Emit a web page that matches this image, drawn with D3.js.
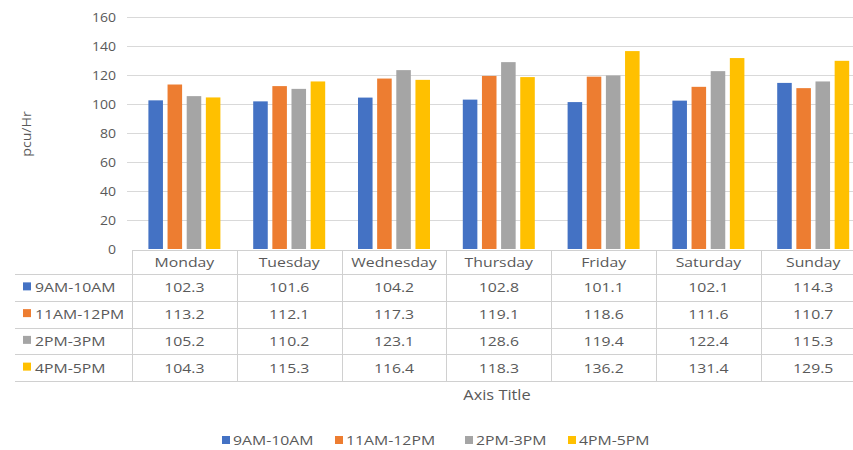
<!DOCTYPE html>
<html>
<head>
<meta charset="utf-8">
<script src="https://cdn.jsdelivr.net/npm/d3@7/dist/d3.min.js"></script>
<style>
  html, body { margin: 0; padding: 0; background: #fff; }
  svg { display: block; }
  text { font-family: "Open Sans", "Liberation Sans", sans-serif; fill: #595959; }
</style>
</head>
<body>
<svg id="chart" width="853" height="450"></svg>
<script>
// Traffic volume by day and time period
const days = ["Monday", "Tuesday", "Wednesday", "Thursday", "Friday", "Saturday", "Sunday"];
const periods = ["9AM-10AM", "11AM-12PM", "2PM-3PM", "4PM-5PM"];
const am9 = [102.3, 101.6, 104.2, 102.8, 101.1, 102.1, 114.3];
const am11 = [113.2, 112.1, 117.3, 119.1, 118.6, 111.6, 110.7];
const pm2 = [105.2, 110.2, 123.1, 128.6, 119.4, 122.4, 115.3];
const pm4 = [104.3, 115.3, 116.4, 118.3, 136.2, 131.4, 129.5];
const yTicks = [0, 20, 40, 60, 80, 100, 120, 140, 160];
const colors = ["#4472C4", "#ED7D31", "#A5A5A5", "#FFC000"];

const series = [am9, am11, pm2, pm4];
const rows = days.map((d, i) => {
  const r = { day: d };
  periods.forEach((p, j) => { r[p] = series[j][i]; });
  return r;
});

const svg = d3.select("#chart");
const W = 853;
const sx = 1.17; // horizontal text stretch

function label(g, x, y, str, anchor, size) {
  return g.append("text")
    .attr("transform", `translate(${x},${y}) scale(${sx},1)`)
    .attr("text-anchor", anchor || "middle")
    .style("font-size", (size || 13.5) + "px")
    .text(str);
}

const plotLeft = 132;
const colW = 104.8;
const x0 = d3.scaleBand().domain(days)
  .range([plotLeft, plotLeft + colW * days.length])
  .paddingInner(0.313).paddingOuter(0.1565);
const x1 = d3.scaleBand().domain(periods)
  .range([0, x0.bandwidth()]).paddingInner(0.24);
const y = d3.scaleLinear().domain([0, 160]).range([249, 16.5]);

// gridlines
svg.append("g").selectAll("line").data(yTicks.filter(t => t > 0)).join("line")
  .attr("x1", 127).attr("x2", W)
  .attr("y1", d => Math.round(y(d)) + 0.5).attr("y2", d => Math.round(y(d)) + 0.5)
  .attr("stroke", "#d9d9d9").attr("stroke-width", 1);

// y axis tick labels
const yAxis = svg.append("g").attr("transform", "translate(116,0)")
  .call(d3.axisLeft(y).tickValues(yTicks).tickSize(0).tickPadding(0));
yAxis.select(".domain").remove();
yAxis.selectAll(".tick text")
  .style("font-size", "13px")
  .attr("fill", "#595959")
  .attr("x", 0)
  .attr("dy", "0.35em")
  .attr("transform", "scale(1.08,1)");

// y axis title
svg.append("text")
  .attr("transform", "translate(31,134) rotate(-90) scale(1.05,1)")
  .attr("text-anchor", "middle")
  .style("font-size", "13.5px")
  .text("pcu/Hr");

// bars
const groups = svg.append("g").selectAll("g").data(rows).join("g")
  .attr("transform", d => `translate(${x0(d.day)},0)`);
groups.selectAll("rect")
  .data(d => periods.map((p, j) => ({ p, j, v: d[p] })))
  .join("rect")
  .attr("x", d => x1(d.p))
  .attr("width", x1.bandwidth())
  .attr("y", d => y(d.v))
  .attr("height", d => y(0) - y(d.v))
  .attr("fill", d => colors[d.j]);

// data table
const tTop = 250.5;
const headH = 23.5;
const rowH = 26.75;
const tBottom = tTop + headH + rowH * periods.length;
const table = svg.append("g");
const lineColor = "#d0d0d0";

// header top edge (category axis)
table.append("line").attr("x1", plotLeft).attr("x2", W)
  .attr("y1", tTop).attr("y2", tTop).attr("stroke", lineColor);
// row separators
d3.range(periods.length + 1).forEach(i => {
  const yy = Math.round(tTop + headH + rowH * i) + 0.5;
  table.append("line").attr("x1", 15).attr("x2", W)
    .attr("y1", yy).attr("y2", yy).attr("stroke", lineColor);
});
// column separators
d3.range(days.length + 1).forEach(i => {
  const xx = Math.round(plotLeft + colW * i) + 0.5;
  table.append("line").attr("x1", xx).attr("x2", xx)
    .attr("y1", tTop).attr("y2", tBottom).attr("stroke", lineColor);
});

// day headers
days.forEach(d => {
  label(table, x0(d) + x0.bandwidth() / 2, tTop + headH / 2 + 5, d);
});
// series rows
periods.forEach((p, j) => {
  const cy = tTop + headH + rowH * j + rowH / 2 + 5;
  table.append("rect").attr("x", 23).attr("y", cy - 10).attr("width", 8).attr("height", 8)
    .attr("fill", colors[j]);
  label(table, 35, cy, p, "start");
  rows.forEach(r => {
    label(table, x0(r.day) + x0.bandwidth() / 2, cy, r[p].toFixed(1));
  });
});

// x axis title
label(svg, 497, 400, "Axis Title", "middle", 14);

// legend
const legendX = [222, 335, 465, 568];
const legend = svg.append("g");
periods.forEach((p, j) => {
  legend.append("rect").attr("x", legendX[j]).attr("y", 436).attr("width", 8).attr("height", 8)
    .attr("fill", colors[j]);
  label(legend, legendX[j] + 11, 445, p, "start");
});
</script>
</body>
</html>
